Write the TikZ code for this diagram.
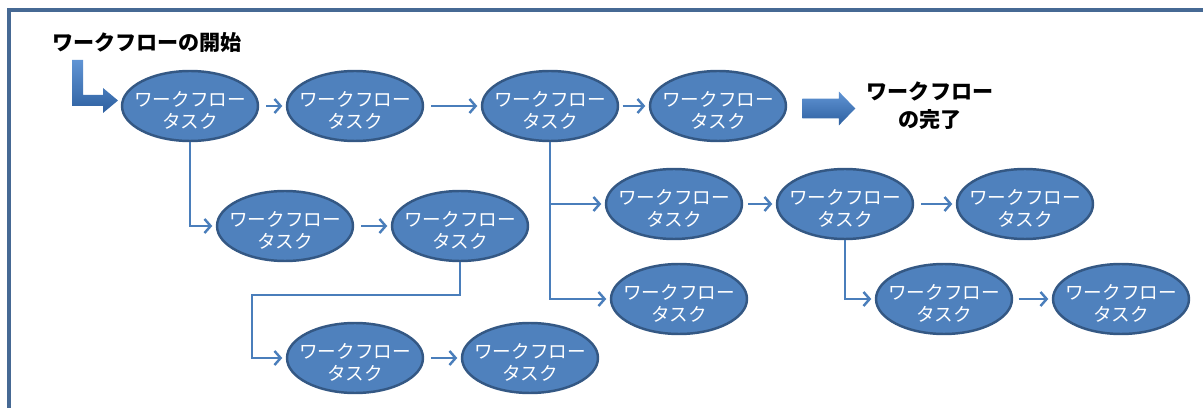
\documentclass[tikz,border=0pt]{standalone}
\usepackage{fontspec}
\setmainfont{Noto Sans CJK JP}
\usetikzlibrary{shapes.geometric, shapes.arrows, arrows.meta, positioning}
\definecolor{taskfill}{RGB}{79,129,189}
\definecolor{taskdraw}{RGB}{52,88,132}
\definecolor{flowline}{RGB}{74,126,187}
\definecolor{framecol}{RGB}{70,105,148}
\definecolor{arrowtop}{RGB}{96,148,212}
\definecolor{arrowbottom}{RGB}{46,96,160}
\tikzset{
	task/.style={ellipse, draw=taskdraw, fill=taskfill, line width=1.4pt, minimum width=2.72cm, minimum height=1.4cm, inner sep=0pt},
	tasktext/.style={align=center, text=white, font=\fontsize{10.6}{12.4}\selectfont, inner sep=0pt, yshift=-2.5pt},
	flow/.style={draw=flowline, line width=1.4pt, -{Straight Barb[length=3.5pt,width=8pt]}},
	heading/.style={font=\fontsize{12}{16}\selectfont\bfseries, inner sep=0pt},
	bigarrow/.style={single arrow, top color=arrowtop, bottom color=arrowbottom, minimum height=1.06cm, inner xsep=0pt, inner ysep=0.19cm, single arrow head extend=0.14cm, single arrow tip angle=92}
}

\begin{document}
\begin{tikzpicture}[x=0.02cm, y=-0.02cm]
		\useasboundingbox (0,0) rectangle (1203,408);
		% Frame
		\draw[framecol, line width=2pt] (9,408) -- (9,10) -- (1203,10);
		
		% Start of the workflow
		\node[heading] (start) at (147,43) {ワークフローの開始};
		\path[top color=arrowtop, bottom color=arrowbottom] (72,60) -- (83,60) -- (83,95) -- (103,95) -- (103,88) -- (118,100.5) -- (103,113) -- (103,106) -- (72,106) -- cycle;
		
		% First row
		\node[task] (t1) at (190,106) {};
		\node[tasktext] at (t1) {ワークフロー\\タスク};
		\node[task] (t2) at (355,106) {};
		\node[tasktext] at (t2) {ワークフロー\\タスク};
		\node[task] (t3) at (550,106) {};
		\node[tasktext] at (t3) {ワークフロー\\タスク};
		\node[task] (t4) at (718,106) {};
		\node[tasktext] at (t4) {ワークフロー\\タスク};
		
		% End of the workflow
		\node[bigarrow] (donearrow) at (824,108.5) {};
		\node[heading, align=center] (done) at (930,106) {ワークフロー\\の完了};
		
		% Branch of the first task
		\node[task] (t5) at (285,226) {};
		\node[tasktext] at (t5) {ワークフロー\\タスク};
		\node[task] (t6) at (460,226) {};
		\node[tasktext] at (t6) {ワークフロー\\タスク};
		\node[task] (t7) at (355,358) {};
		\node[tasktext] at (t7) {ワークフロー\\タスク};
		\node[task] (t8) at (530,358) {};
		\node[tasktext] at (t8) {ワークフロー\\タスク};
		
		% Branches of the third task
		\node[task] (t9) at (674,204) {};
		\node[tasktext] at (t9) {ワークフロー\\タスク};
		\node[task] (t10) at (679,299) {};
		\node[tasktext] at (t10) {ワークフロー\\タスク};
		\node[task] (t11) at (845,204) {};
		\node[tasktext] at (t11) {ワークフロー\\タスク};
		\node[task] (t12) at (1025,204) {};
		\node[tasktext] at (t12) {ワークフロー\\タスク};
		\node[task] (t13) at (944,299) {};
		\node[tasktext] at (t13) {ワークフロー\\タスク};
		\node[task] (t14) at (1121,299) {};
		\node[tasktext] at (t14) {ワークフロー\\タスク};
		
		% Arrows
		\coordinate (bend6) at (252,295);
		\draw[flow, shorten <=4pt, shorten >=2pt] (t1) -- (t2);
		\draw[flow, shorten <=4pt, shorten >=2pt] (t2) -- (t3);
		\draw[flow, shorten <=2pt, shorten >=2pt] (t3) -- (t4);
		\draw[flow, shorten >=2pt] (t1.south) |- (t5.west);
		\draw[flow, shorten <=4pt, shorten >=2pt] (t5) -- (t6);
		\draw[flow, shorten >=2pt] (t6.south) |- (bend6) |- (t7.west);
		\draw[flow, shorten <=4pt, shorten >=2pt] (t7) -- (t8);
		\draw[flow, shorten >=2pt] (t3.south) |- (t9.west);
		\draw[flow, shorten >=2pt] (t3.south) |- (t10.west);
		\draw[flow, shorten <=3pt, shorten >=2pt] (t9) -- (t11);
		\draw[flow, shorten <=4pt, shorten >=2pt] (t11) -- (t12);
		\draw[flow, shorten >=2pt] (t11.south) |- (t13.west);
		\draw[flow, shorten <=3pt, shorten >=2pt] (t13) -- (t14);
	\end{tikzpicture}
\end{document}
